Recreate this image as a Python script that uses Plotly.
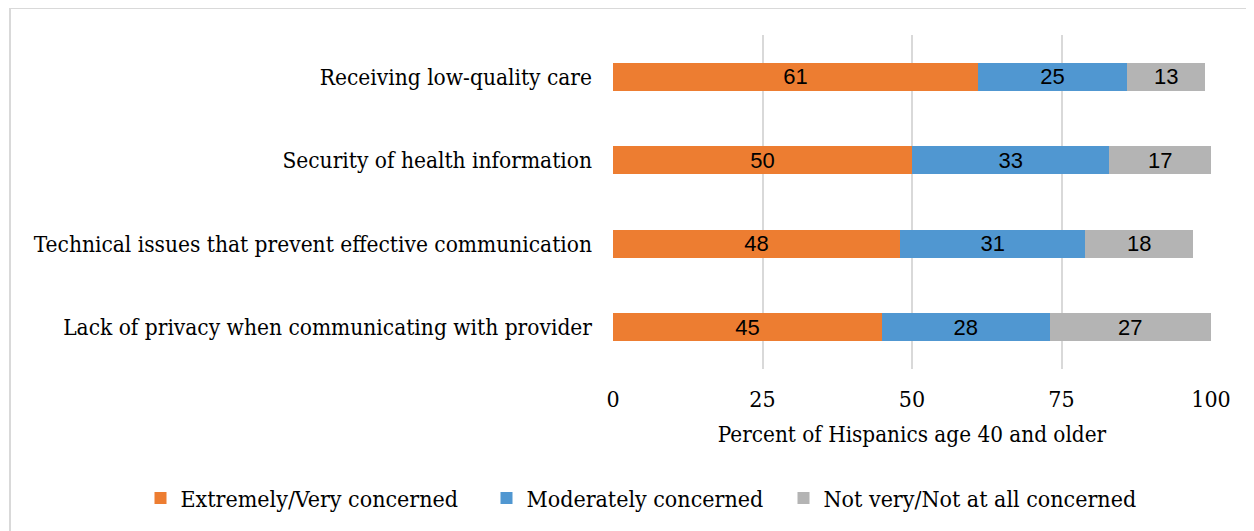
import plotly.graph_objects as go

categories = [
    "Lack of privacy when communicating with provider",
    "Technical issues that prevent effective communication",
    "Security of health information",
    "Receiving low-quality care",
]
extremely = [45, 48, 50, 61]
moderately = [28, 31, 33, 25]
not_very = [27, 18, 17, 13]
series_names = ["Extremely/Very concerned", "Moderately concerned", "Not very/Not at all concerned"]
colors = ["#ED7D31", "#5097D1", "#B4B4B4"]
tick_vals = [0, 25, 50, 75, 100]

SERIF = "DejaVu Serif Condensed, DejaVu Serif, serif"
NARROW = "Liberation Sans Narrow, Arial Narrow, sans-serif"

W, H = 1246, 523
L, T, PW, PH = 605, 27, 598, 334

legend_ids = ["legend", "legend2", "legend3"]
legend_sym_centers = [152.5, 498.5, 795.5]

fig = go.Figure()
for name, vals, col, lid in zip(series_names, [extremely, moderately, not_very], colors, legend_ids):
    fig.add_trace(go.Bar(
        y=categories, x=vals, name=name, orientation="h",
        marker=dict(color=col, line=dict(width=0)),
        text=[str(v) for v in vals], textposition="inside",
        insidetextanchor="middle", textangle=0, constraintext="none",
        textfont=dict(family=NARROW, size=22, color="#000000"),
        width=0.335, legend=lid,
    ))

legend_common = dict(orientation="h", xref="container", yref="container",
                     xanchor="left", y=1 - 490 / H, yanchor="middle",
                     font=dict(family=SERIF, size=23), itemwidth=30,
                     bgcolor="rgba(0,0,0,0)")
fig.update_layout(
    barmode="stack",
    width=W, height=H,
    margin=dict(l=L, r=W - L - PW, t=T, b=H - T - PH),
    paper_bgcolor="white", plot_bgcolor="white",
    font=dict(family=SERIF, size=22, color="#000000"),
    showlegend=True,
    legend=dict(x=(legend_sym_centers[0] - 20) / W, **legend_common),
    legend2=dict(x=(legend_sym_centers[1] - 20) / W, **legend_common),
    legend3=dict(x=(legend_sym_centers[2] - 20) / W, **legend_common),
    uniformtext=dict(minsize=8, mode="show"),
)
fig.update_xaxes(range=[0, 100], tickvals=tick_vals, showgrid=True,
                 gridcolor="#D9D9D9", gridwidth=2, zeroline=False,
                 showline=False, ticklabelstandoff=14,
                 tickfont=dict(family=SERIF, size=23),
                 title=dict(text="Percent of Hispanics age 40 and older",
                            font=dict(family=SERIF, size=22.3), standoff=15))
fig.update_yaxes(showgrid=False, showline=False, ticks="", ticklabelstandoff=20,
                 tickfont=dict(family=SERIF, size=22.5))

fig.add_shape(type="rect", xref="paper", yref="paper",
              x0=-(L - 2) / PW, x1=1.3,
              y0=-0.8, y1=1 + (T - 0) / PH, line=dict(color="#D9D9D9", width=2),
              fillcolor="rgba(0,0,0,0)", layer="below")

fig.write_html("out.html")
